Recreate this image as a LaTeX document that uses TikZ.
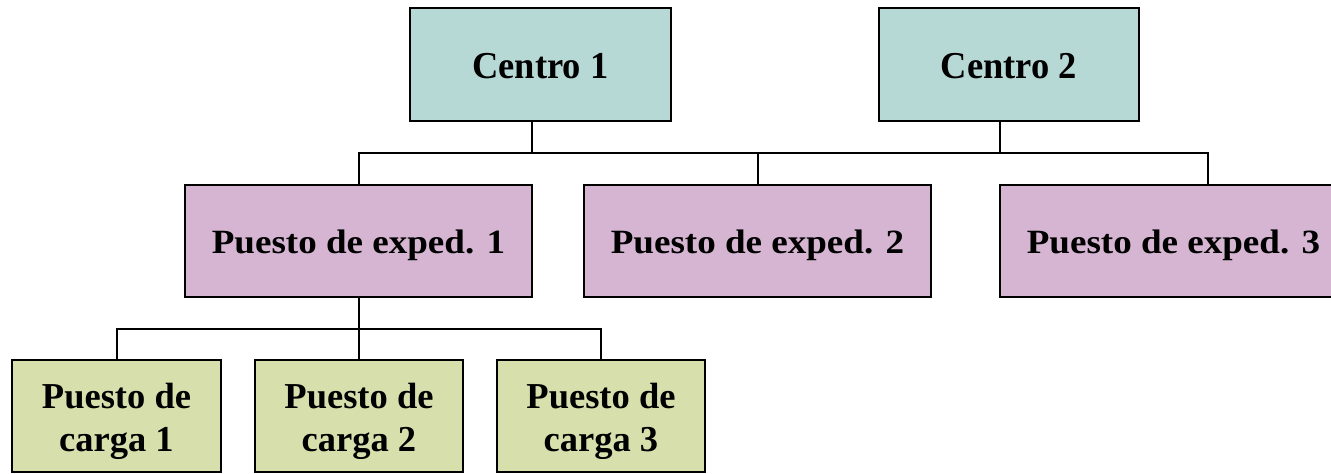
\documentclass[tikz,border=0pt]{standalone}
\usepackage{graphicx}
\usepackage{fontspec}
\setmainfont{Liberation Serif}
\definecolor{cteal}{RGB}{182,217,214}
\definecolor{cpink}{RGB}{214,181,211}
\definecolor{cgreen}{RGB}{215,224,172}
\newcommand\xstretch[3]{\raisebox{#3}[\height][\depth]{\scalebox{#1}[1]{#2}}}
\newcommand\twolines[2]{\raisebox{-5pt}[\height][\depth]{\begin{tabular}{@{}c@{}}#1\\[-1pt]#2\end{tabular}}}
\begin{document}
\begin{tikzpicture}[x=1pt,y=-1pt,
  box/.style={draw=black,line width=2pt,rectangle,inner sep=0pt,align=center},
  centro/.style={box,fill=cteal,minimum height=113pt,font=\bfseries\fontsize{38}{44}\selectfont},
  exped/.style={box,fill=cpink,minimum width=347pt,minimum height=112pt,font=\bfseries\fontsize{34}{44}\selectfont},
  carga/.style={box,fill=cgreen,minimum width=208pt,minimum height=112pt,font=\bfseries\fontsize{36.5}{44}\selectfont},
  link/.style={draw=black,line width=2pt}]
\useasboundingbox (0,0) rectangle (1331,474);
\clip (0,0) rectangle (1331,474);
\node[centro,minimum width=261pt] (c1) at (540.5,64.5) {\xstretch{0.96}{Centro 1}{-1.5pt}};
\node[centro,minimum width=260pt] (c2) at (1009,64.5) {\xstretch{0.96}{Centro 2}{-1.5pt}};
\node[exped] (e1) at (358.5,240.5) {\xstretch{1.09}{Puesto de exped. 1}{-5pt}};
\node[exped] (e2) at (757.5,240.5) {\xstretch{1.09}{Puesto de exped. 2}{-5pt}};
\node[exped] (e3) at (1173.5,240.5) {\xstretch{1.09}{Puesto de exped. 3}{-5pt}};
\node[carga,minimum width=209pt] (g1) at (116.5,416) {\twolines{Puesto de}{carga 1}};
\node[carga] (g2) at (359,416) {\twolines{Puesto de}{carga 2}};
\node[carga] (g3) at (601,416) {\twolines{Puesto de}{carga 3}};
% top bus
\coordinate (b1) at (358.5,153);
\coordinate (b3) at (1208,153);
\coordinate (ca) at (532,153);
\coordinate (cb) at (1000,153);
\draw[link] (e1.north) -- (b1) -- (b3) -- (b3 |- e3.north);
\draw[link] (ca |- c1.south) -- (ca);
\draw[link] (cb |- c2.south) -- (cb);
\draw[link] (e2.north) -- (e2.north |- b1);
% lower bus
\coordinate (l1) at (116.5,329);
\coordinate (l3) at (601,329);
\draw[link] (e1.south) -- (e1.south |- l1);
\draw[link] (g1.north) -- (l1) -- (l3) -- (g3.north);
\draw[link] (g2.north) -- (g2.north |- l1);
\end{tikzpicture}
\end{document}
